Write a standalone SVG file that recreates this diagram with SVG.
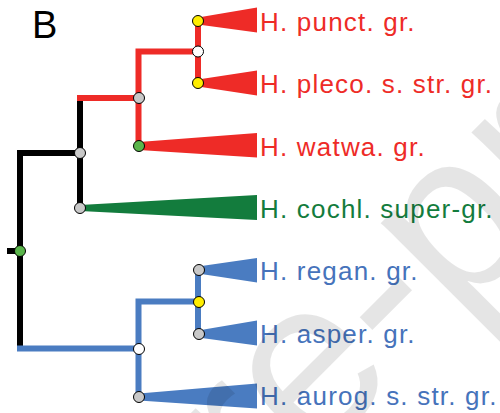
<svg xmlns="http://www.w3.org/2000/svg" width="500" height="413" viewBox="0 0 500 413">
  <style>
    .br { fill: none; stroke-width: 6; stroke-linejoin: miter; stroke-linecap: butt; }
    .blk { stroke: #000000; }
    .red { stroke: #ee2b27; }
    .blu { stroke: #4a7cc1; }
    .nd { stroke: #000000; stroke-width: 1; }
    .gray { fill: #c8c8c8; }
    .yel { fill: #ffee00; }
    .grn { fill: #5ab54b; }
    .wht { fill: #ffffff; }
    .lab { font-family: "Liberation Sans", Arial, Helvetica, sans-serif; font-size: 26px; letter-spacing: 1.2px; }
    .cr { fill: #ee2b27; }
    .cg { fill: #137c3d; }
    .cb { fill: #4a7cc1; }
    .tb { fill: #4673bb; }
    .wm { font-family: "Liberation Sans", Arial, Helvetica, sans-serif; font-size: 230px; fill: #000000; fill-opacity: 0.1; }
  </style>

  <text x="32" y="37.5" font-family="'Liberation Sans', Arial, sans-serif" font-size="38" fill="#000000">B</text>

  <!-- branches -->
  <g id="connectors">
    <path class="br blk" d="M7,251 H20"/>
    <path class="br blk" d="M80,153 H20 V346"/>
    <path class="br blk" d="M80,101 V208"/>
    <path class="br red" d="M77,98 H139"/>
    <path class="br red" d="M198,51.5 H138.5 V146"/>
    <path class="br red" d="M198,21 V83"/>
    <path class="br blu" d="M17,348.5 H139"/>
    <path class="br blu" d="M138.5,397 V301.5 H198"/>
    <path class="br blu" d="M198,270 V334"/>
  </g>

  <!-- collapsed clades -->
  <g id="clade-punct">
    <polygon class="cr" points="198,17.5 257,7.5 257,32.5 198,24.5"/>
    <text class="lab cr" x="260" y="31">H. punct. gr.</text>
  </g>
  <g id="clade-pleco">
    <polygon class="cr" points="198,79.5 257,70.5 257,95.5 198,86.5"/>
    <text class="lab cr" x="260" y="93">H. pleco. s. str. gr.</text>
  </g>
  <g id="clade-watwa">
    <polygon class="cr" points="139,142 257,133 257,157.5 139,150"/>
    <text class="lab cr" x="260" y="155.5">H. watwa. gr.</text>
  </g>
  <g id="clade-cochl">
    <polygon class="cg" points="80,205 257,195 257,220 80,211"/>
    <text class="lab cg" x="260" y="217.5">H. cochl. super-gr.</text>
  </g>
  <g id="clade-regan">
    <polygon class="cb" points="198,266.5 257,258 257,282.5 198,273.5"/>
    <text class="lab tb" x="260" y="280">H. regan. gr.</text>
  </g>
  <g id="clade-asper">
    <polygon class="cb" points="198,330.5 257,320.5 257,345.5 198,337.5"/>
    <text class="lab tb" x="260" y="342.5">H. asper. gr.</text>
  </g>
  <g id="clade-aurog">
    <polygon class="cb" points="139,393.5 257,383.5 257,408.5 139,400.5"/>
    <text class="lab tb" x="260" y="405">H. aurog. s. str. gr.</text>
  </g>

  <!-- node markers -->
  <g id="nodes">
    <circle class="nd grn" cx="20" cy="251" r="5.5"/>
    <circle class="nd gray" cx="80" cy="153" r="5.5"/>
    <circle class="nd gray" cx="80" cy="208" r="5.5"/>
    <circle class="nd gray" cx="139" cy="98" r="5.5"/>
    <circle class="nd grn" cx="139" cy="146" r="5.5"/>
    <circle class="nd wht" cx="198" cy="51.5" r="5.5"/>
    <circle class="nd yel" cx="198" cy="21" r="5.5"/>
    <circle class="nd yel" cx="198" cy="83" r="5.5"/>
    <circle class="nd wht" cx="139" cy="349" r="5.5"/>
    <circle class="nd gray" cx="139" cy="397" r="5.5"/>
    <circle class="nd yel" cx="199" cy="302" r="5.5"/>
    <circle class="nd gray" cx="199" cy="270" r="5.5"/>
    <circle class="nd gray" cx="199" cy="334" r="5.5"/>
  </g>

  <!-- watermark -->
  <text class="wm" transform="translate(148.8,627) rotate(-45)">Pre-proof</text>
</svg>
